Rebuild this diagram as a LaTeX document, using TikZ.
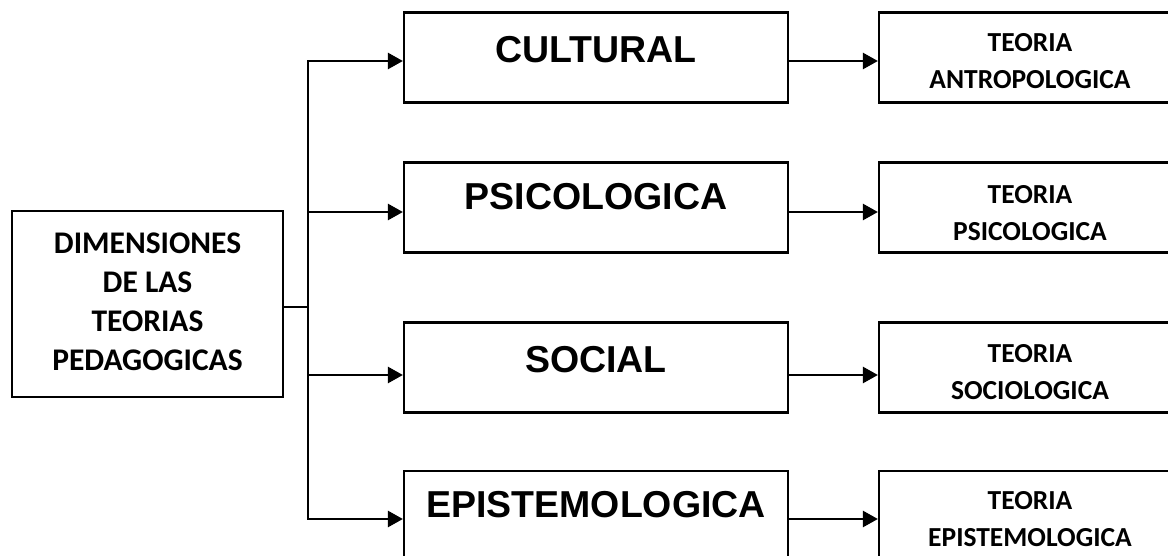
\documentclass[tikz,border=0pt]{standalone}
\usepackage{fontspec}
\setmainfont{Carlito}
\newfontfamily\arialfont{Liberation Sans}
\usetikzlibrary{arrows.meta}
\begin{document}
\begin{tikzpicture}[x=1pt,y=-1pt,
  box/.style={draw=black, line width=2.2pt, fill=white, inner sep=0pt},
  leftbox/.style={box, minimum width=271pt, minimum height=186pt},
  midbox/.style={box, minimum width=384pt, minimum height=90pt},
  rightbox/.style={box, minimum width=302pt, minimum height=90pt},
  midtext/.style={inner sep=0pt, font=\arialfont\bfseries\fontsize{37.5}{44}\selectfont},
  sidetext/.style={inner sep=0pt, align=center, font=\bfseries\fontsize{27.5}{37}\selectfont},
  lefttext/.style={inner sep=0pt, align=center, font=\bfseries\fontsize{31.5}{39}\selectfont},
  link/.style={draw=black, line width=2.5pt},
  arr/.style={link, -{Triangle[length=15pt,width=16pt]}}
]
\useasboundingbox (0,0) rectangle (1168,556);

% root box
\node[leftbox] (dim) at (147.5,304) {};
\node[lefttext] (dimt) at (147.5,301.5) {DIMENSIONES\\DE LAS\\TEORIAS\\PEDAGOGICAS};

% dimension boxes
\node[midbox] (cult) at (596,57.5) {};
\node[midtext] (cultt) at (596,50) {CULTURAL};
\node[midbox] (psic) at (596,207.5) {};
\node[midtext] (psict) at (596,197) {PSICOLOGICA};
\node[midbox] (soc) at (596,367.5) {};
\node[midtext] (soct) at (596,360) {SOCIAL};
\node[midbox] (epis) at (596,516) {};
\node[midtext] (epist) at (596,505) {EPISTEMOLOGICA};

% theory boxes
\node[rightbox] (tcult) at (1030,57.5) {};
\node[sidetext] (tcultt) at (1030,61) {TEORIA\\ANTROPOLOGICA};
\node[rightbox] (tpsic) at (1030,207.5) {};
\node[sidetext] (tpsict) at (1030,213.5) {TEORIA\\PSICOLOGICA};
\node[rightbox] (tsoc) at (1030,367.5) {};
\node[sidetext] (tsoct) at (1030,372) {TEORIA\\SOCIOLOGICA};
\node[rightbox] (tepis) at (1030,516) {};
\node[sidetext] (tepist) at (1030,519) {TEORIA\\EPISTEMOLOGICA};

% branching bus
\coordinate (bus) at (308,307);
\draw[link] ([yshift=-3pt]dim.east) -- (bus);
\draw[arr] (bus) |- ([yshift=-3.5pt]cult.west);
\draw[arr] (bus) |- ([yshift=-4.5pt]psic.west);
\draw[arr] (bus) |- ([yshift=-7.5pt]soc.west);
\draw[arr] (bus) |- ([yshift=-3pt]epis.west);

% dimension to theory
\draw[arr] ([yshift=-3.5pt]cult.east) -- ([yshift=-3.5pt]tcult.west);
\draw[arr] ([yshift=-4.5pt]psic.east) -- ([yshift=-4.5pt]tpsic.west);
\draw[arr] ([yshift=-7.5pt]soc.east) -- ([yshift=-7.5pt]tsoc.west);
\draw[arr] ([yshift=-3pt]epis.east) -- ([yshift=-3pt]tepis.west);
\end{tikzpicture}
\end{document}
